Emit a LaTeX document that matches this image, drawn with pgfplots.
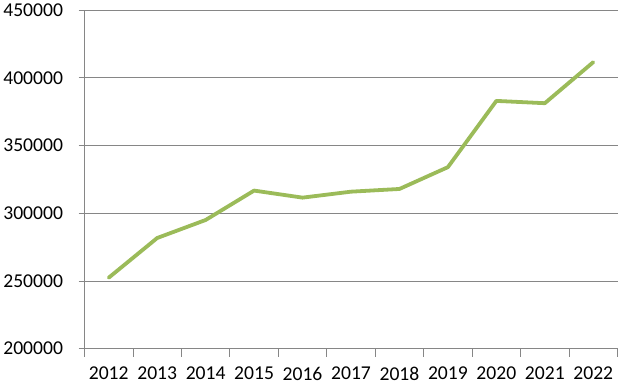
\documentclass[border=0pt]{standalone}
\usepackage{pgfplots}
\pgfplotsset{compat=1.18}
\usepackage{fontspec}
\setmainfont{Carlito}
\definecolor{gridgray}{HTML}{868686}
\definecolor{linegreen}{HTML}{9BBB59}
\begin{document}
\begin{tikzpicture}
\useasboundingbox (0,0) rectangle (622pt,385pt);
\begin{axis}[
  at={(84.5pt,36.3pt)}, anchor=south west,
  scale only axis,
  width=533pt, height=338.7pt,
  xmin=-0.5, xmax=10.5,
  ymin=200000, ymax=450000,
  ytick={200000,250000,...,450000},
  xtick={0,...,10},
  xticklabels={2012,2013,2014,2015,2016,2017,2018,2019,2020,2021,2022},
  minor xtick={-0.5,0.5,...,10.5},
  scaled y ticks=false,
  yticklabel style={/pgf/number format/fixed,/pgf/number format/1000 sep={}},
  /pgf/number format/assume math mode=true,
  tick label style={font=\fontsize{19.6}{21}\selectfont, text=black},
  axis lines*=left,
  axis line style={draw=gridgray, line width=0.75pt},
  tick align=outside,
  xtick pos=bottom, ytick pos=left,
  ymajorgrids,
  grid style={draw=gridgray, line width=0.75pt},
  major tick style={draw=gridgray, line width=0.75pt},
  minor tick style={draw=gridgray, line width=0.75pt},
  major x tick style={draw=none},
  major tick length=6pt,
  minor tick length=8pt,
  yticklabel style={xshift=-12pt},
  xticklabel style={yshift=-9pt},
  clip=false,
]
\addplot[linegreen, line width=3.8pt, line join=round, line cap=round, mark=none] coordinates {
  (0,252400) (1,281700) (2,295000) (3,316700) (4,311500) (5,315900)
  (6,317900) (7,334000) (8,382900) (9,381200) (10,411500)
};
\end{axis}
\end{tikzpicture}
\end{document}
